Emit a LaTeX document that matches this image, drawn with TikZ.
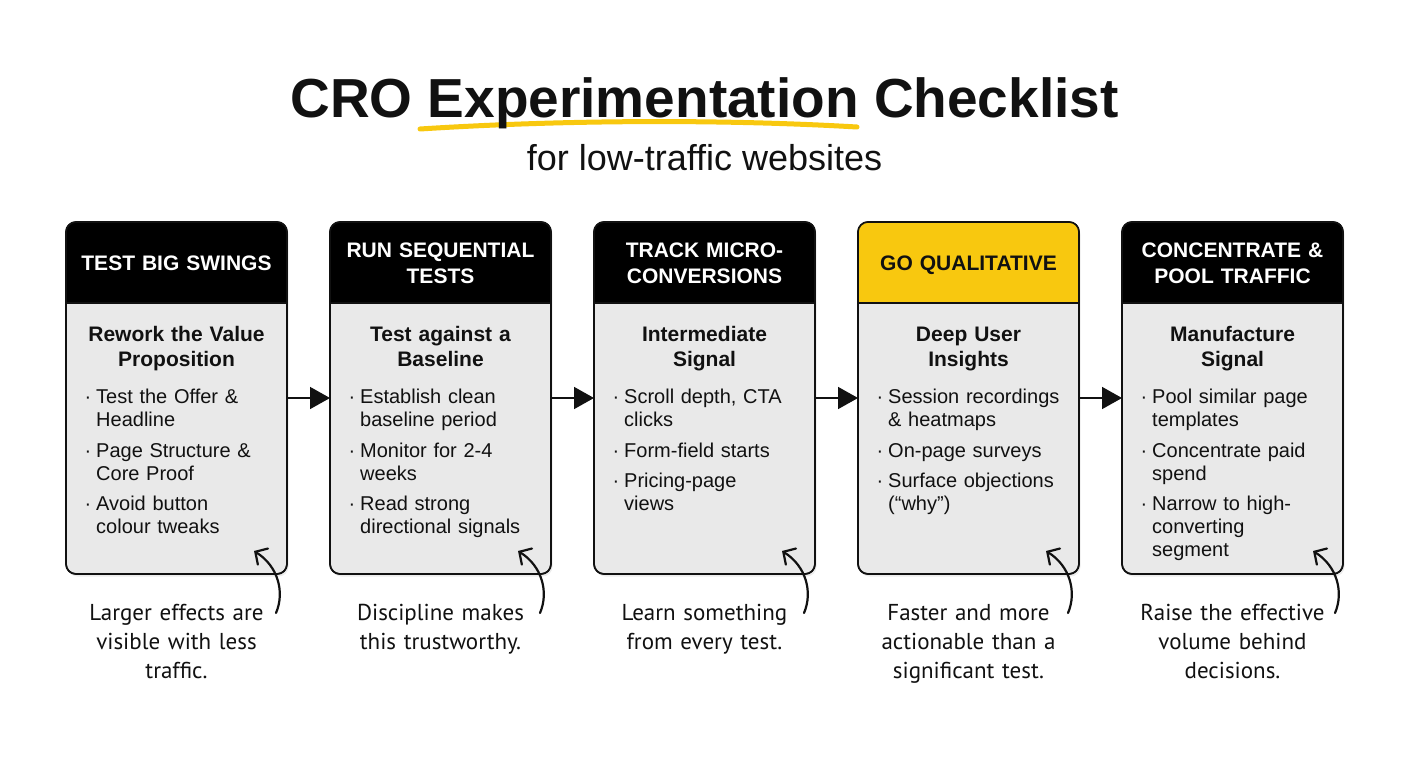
\documentclass[tikz,border=0pt]{standalone}
\usepackage{fontspec}
\setmainfont{Liberation Sans}
\newfontfamily\hand{PT Sans}
\usetikzlibrary{arrows.meta,shadows,calc}
\definecolor{cardfill}{HTML}{E9E9E9}
\definecolor{accent}{HTML}{F8C80F}
\definecolor{ink}{HTML}{111111}
\newcommand\bdot{\llap{·\hspace{5pt}}}
\newcommand\mkcard[3]{%
  \node[card] (#1) at (#2,398) {};
  \begin{scope}
    \clip[rounded corners=10pt] (#1.north west) rectangle (#1.south east);
    \fill[#3] (#1.north west) rectangle ($(#1.north east)+(0,81)$);
  \end{scope}
  \draw[ink,line width=1.6pt] ($(#1.north west)+(0,81)$) -- ($(#1.north east)+(0,81)$);
  \draw[ink,line width=1.6pt,rounded corners=10pt] (#1.north west) rectangle (#1.south east);
}
\begin{document}
\begin{tikzpicture}[x=1pt,y=-1pt,
  card/.style={draw=ink, line width=1.6pt, rounded corners=10pt, fill=cardfill,
    minimum width=221pt, minimum height=352pt, inner sep=0pt, outer sep=0pt,
    drop shadow={opacity=0.15, shadow xshift=1.5pt, shadow yshift=-2.5pt}},
  headtext/.style={font=\fontsize{21}{26}\selectfont\bfseries, text width=215pt, align=center, inner sep=0pt, anchor=base},
  subhead/.style={font=\fontsize{21}{25}\selectfont\bfseries, text width=215pt, align=center, inner sep=0pt, anchor=base, text=ink},
  bullet/.style={font=\fontsize{20}{23}\selectfont, text width=190pt, align=left, inner sep=0pt, anchor=base west, text=ink},
  note/.style={font=\hand\fontsize{23}{29}\selectfont, text width=240pt, align=center, inner sep=0pt, anchor=base, text=ink},
  flow/.style={draw=ink, line width=1.6pt, -{Triangle[length=20pt,width=22pt]}},
  pointer/.style={draw=ink, line width=2.2pt, line cap=round, -{Straight Barb[length=9pt,width=19pt,line cap=round]}},
]
\fill[white] (0,0) rectangle (1408,768);
\useasboundingbox (0,0) rectangle (1408,768);

% title
\draw[accent, line width=5pt, line cap=round] (420,129) .. controls (560,120) and (720,119) .. (857,127);
\node[font=\fontsize{55}{60}\selectfont\bfseries, anchor=base, text=ink, inner sep=0pt] (title) at (704.5,117) {CRO Experimentation Checklist};
\node[font=\fontsize{36}{40}\selectfont, anchor=base, text=ink, inner sep=0pt] (sub) at (704.5,170) {for low-traffic websites};

% cards
\mkcard{c1}{176.5}{black}
\mkcard{c2}{440.5}{black}
\mkcard{c3}{704.5}{black}
\mkcard{c4}{968.5}{accent}
\mkcard{c5}{1232.5}{black}

% headers
\node[headtext, text=white] (h1) at (176.5,270) {TEST BIG SWINGS};
\node[headtext, text=white] (h2) at (440.5,257) {RUN SEQUENTIAL\\TESTS};
\node[headtext, text=white] (h3) at (704.5,257) {TRACK MICRO-\\CONVERSIONS};
\node[headtext, text=ink] (h4) at (968.5,270) {GO QUALITATIVE};
\node[headtext, text=white] (h5) at (1232.5,257) {CONCENTRATE \&\\POOL TRAFFIC};

% subheads
\node[subhead] (s1) at (176.5,341) {Rework the Value\\Proposition};
\node[subhead] (s2) at (440.5,341) {Test against a\\Baseline};
\node[subhead] (s3) at (704.5,341) {Intermediate\\Signal};
\node[subhead] (s4) at (968.5,341) {Deep User\\Insights};
\node[subhead] (s5) at (1232.5,341) {Manufacture\\Signal};

% bullets card 1
\node[bullet] (b11) at (96,403) {\bdot Test the Offer \&\\Headline};
\node[bullet] (b12) at (96,457) {\bdot Page Structure \&\\Core Proof};
\node[bullet] (b13) at (96,510) {\bdot Avoid button\\colour tweaks};
% card 2
\node[bullet] (b21) at (360,403) {\bdot Establish clean\\baseline period};
\node[bullet] (b22) at (360,457) {\bdot Monitor for 2-4\\weeks};
\node[bullet] (b23) at (360,510) {\bdot Read strong\\directional signals};
% card 3
\node[bullet] (b31) at (624,403) {\bdot Scroll depth, CTA\\clicks};
\node[bullet] (b32) at (624,457) {\bdot Form-field starts};
\node[bullet] (b33) at (624,487) {\bdot Pricing-page\\views};
% card 4
\node[bullet] (b41) at (888,403) {\bdot Session recordings\\\& heatmaps};
\node[bullet] (b42) at (888,457) {\bdot On-page surveys};
\node[bullet] (b43) at (888,487) {\bdot Surface objections\\(“why”)};
% card 5
\node[bullet] (b51) at (1152,403) {\bdot Pool similar page\\templates};
\node[bullet] (b52) at (1152,457) {\bdot Concentrate paid\\spend};
\node[bullet] (b53) at (1152,510) {\bdot Narrow to high-\\converting\\segment};

% flow arrows
\draw[flow] (c1.east) -- (c2.west);
\draw[flow] (c2.east) -- (c3.west);
\draw[flow] (c3.east) -- (c4.west);
\draw[flow] (c4.east) -- (c5.west);

% notes
\node[note] (n1) at (176.5,620) {Larger effects are\\visible with less\\traffic.};
\node[note] (n2) at (440.5,620) {Discipline makes\\this trustworthy.};
\node[note] (n3) at (704.5,620) {Learn something\\from every test.};
\node[note] (n4) at (968.5,620) {Faster and more\\actionable than a\\significant test.};
\node[note] (n5) at (1232.5,620) {Raise the effective\\volume behind\\decisions.};

% pointers
\foreach \i/\L in {1/66, 2/330, 3/594, 4/858, 5/1125} {
  \coordinate (t\i) at (\L+210,613);
  \coordinate (p\i) at (\L+188,551);
  \draw[pointer] (t\i) .. controls (\L+219,592) and (\L+212,566) .. (p\i);
}
\end{tikzpicture}
\end{document}
